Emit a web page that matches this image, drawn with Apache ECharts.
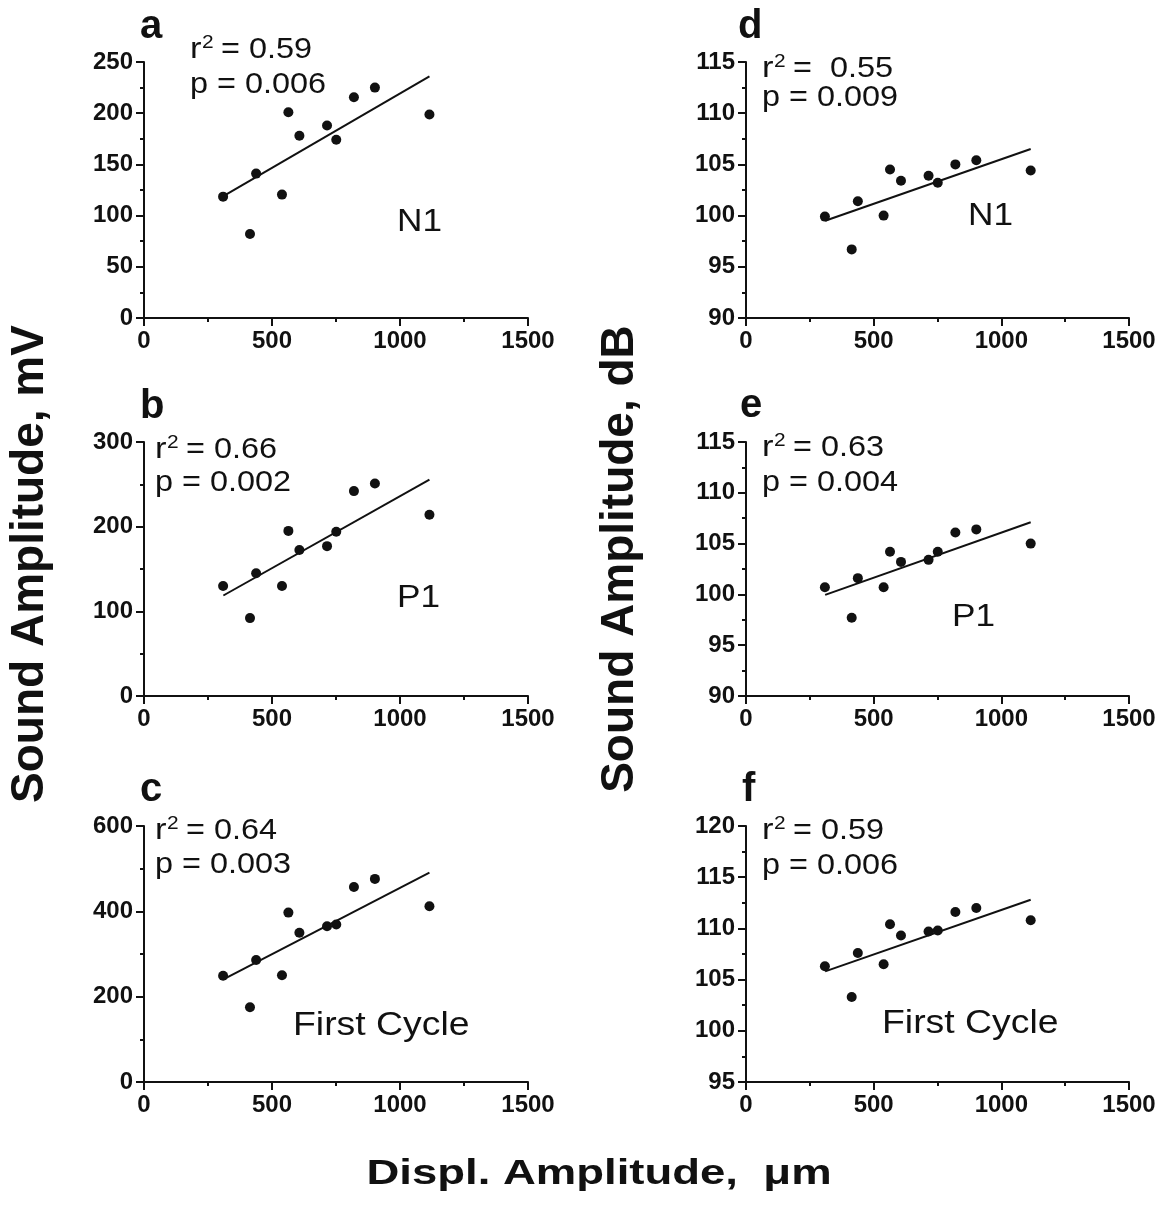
<!DOCTYPE html>
<html>
<head>
<meta charset="utf-8">
<script src="https://cdn.jsdelivr.net/npm/echarts@6/dist/echarts.min.js"></script>
<style>
html,body{margin:0;padding:0;background:#fff;}
#chart{width:1164px;height:1207px;}
</style>
</head>
<body>
<div id="chart"></div>
<script>
// Displacement amplitude (µm) of each measurement, shared by all panels
var displX = [309, 414, 438, 539, 564, 607, 715, 751, 820, 902, 1115];
// Sound amplitude, mV
var n1mV = [118.5, 82, 141, 120.5, 201, 178, 188, 174, 215.5, 225, 198.7];
var p1mV = [130, 92, 145, 130, 195, 172.5, 177, 194, 242, 251, 214];
var cycleMV = [249, 175, 286, 250, 397, 350, 365, 369, 457, 476, 412];
// Sound amplitude, dB
var n1dB = [99.9, 96.7, 101.4, 100.0, 104.5, 103.4, 103.9, 103.2, 105.0, 105.4, 104.4];
var p1dB = [100.7, 97.7, 101.6, 100.7, 104.2, 103.2, 103.4, 104.2, 106.1, 106.4, 105.0];
var cycleDB = [106.3, 103.3, 107.6, 106.5, 110.4, 109.3, 109.7, 109.8, 111.6, 112.0, 110.8];
// Regression line end points
var fitX = [310, 1115];
var fitN1mV = [119, 236];
var fitP1mV = [118.7, 255.6];
var fitCycleMV = [240.4, 490.6];
var fitN1dB = [99.5, 106.5];
var fitP1dB = [99.95, 107.1];
var fitCycleDB = [105.8, 112.8];
// Axis ranges / ticks
var xRange = [0, 1500, 500];
var yRanges = [[0, 250, 50], [0, 300, 100], [0, 600, 200], [90, 115, 5], [90, 115, 5], [95, 120, 5]];
// Panel annotations
var panelLetters = ['a', 'b', 'c', 'd', 'e', 'f'];
var panelNames = ['N1', 'P1', 'First Cycle', 'N1', 'P1', 'First Cycle'];
var rSquared = ['= 0.59', '= 0.66', '= 0.64', '=  0.55', '= 0.63', '= 0.59'];
var pValues = ['p = 0.006', 'p = 0.002', 'p = 0.003', 'p = 0.009', 'p = 0.004', 'p = 0.006'];

var panelVals = [n1mV, p1mV, cycleMV, n1dB, p1dB, cycleDB];
var panelFits = [fitN1mV, fitP1mV, fitCycleMV, fitN1dB, fitP1dB, fitCycleDB];

var FONT = 'Liberation Sans, Arial, sans-serif';
var INK = '#111111';

// layout
var grids = [
  {left: 144, top: 62, width: 384, height: 256},
  {left: 144, top: 442, width: 384, height: 254},
  {left: 144, top: 826, width: 384, height: 256},
  {left: 746, top: 62, width: 383, height: 256},
  {left: 746, top: 442, width: 383, height: 254},
  {left: 746, top: 826, width: 383, height: 256}
];
var letterPos = [[140, 27], [140, 407], [140, 790], [738, 27], [740, 406], [742, 790]];
var rPos = [[190, 50, 85], [155, 450, 483], [155, 831, 865], [762, 69, 98], [762, 448, 483], [762, 831, 866]];
var namePos = [[397, 222, 32], [397, 598, 32], [293, 1026, 34], [968, 216, 32], [952, 617, 32], [882, 1024, 34]];

function axisCommon() {
  return {
    axisLine: {show: true, onZero: false, lineStyle: {color: INK, width: 2}},
    axisTick: {show: true, length: 8, lineStyle: {color: INK, width: 2}},
    minorTick: {show: true, splitNumber: 2, length: 4, lineStyle: {color: INK, width: 2}},
    splitLine: {show: false},
    minorSplitLine: {show: false},
    axisLabel: {fontSize: 24, fontWeight: 'bold', color: INK, fontFamily: FONT, margin: 11,
      formatter: function (v) { return String(v); }}
  };
}

function txt(x, y, text, font, sx) {
  return {type: 'text', x: x, y: y, scaleX: sx || 1,
    style: {text: text, font: font, fill: INK, textAlign: 'left', textVerticalAlign: 'middle'}};
}

var xAxes = [], yAxes = [], series = [], graphics = [];
for (var i = 0; i < 6; i++) {
  var xa = axisCommon();
  xa.gridIndex = i; xa.type = 'value';
  xa.min = xRange[0]; xa.max = xRange[1]; xa.interval = xRange[2];
  xAxes.push(xa);
  var ya = axisCommon();
  ya.gridIndex = i; ya.type = 'value';
  ya.min = yRanges[i][0]; ya.max = yRanges[i][1]; ya.interval = yRanges[i][2];
  yAxes.push(ya);

  var vals = panelVals[i];
  series.push({
    type: 'scatter', xAxisIndex: i, yAxisIndex: i,
    symbol: 'circle', symbolSize: 10,
    itemStyle: {color: INK, opacity: 1},
    data: displX.map(function (x, j) { return [x, vals[j]]; }),
    z: 3
  });
  var fit = panelFits[i];
  series.push({
    type: 'line', xAxisIndex: i, yAxisIndex: i,
    showSymbol: false, symbol: 'none',
    lineStyle: {color: INK, width: 2},
    data: fitX.map(function (x, j) { return [x, fit[j]]; }),
    z: 2
  });

  var rx = rPos[i][0], ry = rPos[i][1];
  graphics.push(txt(letterPos[i][0], letterPos[i][1], panelLetters[i], 'bold 40px ' + FONT));
  graphics.push(txt(rx, ry, 'r', '30px ' + FONT, 1.15));
  graphics.push(txt(rx + 12, ry - 7, '2', '19px ' + FONT, 1.1));
  graphics.push(txt(rx + 31, ry, rSquared[i], '30px ' + FONT, 1.08));
  graphics.push(txt(rx, rPos[i][2], pValues[i], '30px ' + FONT, 1.08));
  graphics.push(txt(namePos[i][0], namePos[i][1], panelNames[i], namePos[i][2] + 'px ' + FONT, 1.1));
}

// axis titles
graphics.push({type: 'text', x: 30, y: 564, rotation: Math.PI / 2,
  style: {text: 'Sound Amplitude, mV', font: 'bold 46px ' + FONT, fill: INK, textAlign: 'center', textVerticalAlign: 'middle'}});
graphics.push({type: 'text', x: 620, y: 559, rotation: Math.PI / 2,
  style: {text: 'Sound Amplitude, dB', font: 'bold 46px ' + FONT, fill: INK, textAlign: 'center', textVerticalAlign: 'middle'}});
graphics.push({type: 'text', x: 599, y: 1174, scaleX: 1.3,
  style: {text: 'Displ. Amplitude,  μm', font: 'bold 35px ' + FONT, fill: INK, textAlign: 'center', textVerticalAlign: 'middle'}});

var chart = echarts.init(document.getElementById('chart'), null, {renderer: 'canvas'});
chart.setOption({
  animation: false,
  backgroundColor: '#fff',
  grid: grids,
  xAxis: xAxes,
  yAxis: yAxes,
  series: series,
  graphic: graphics
});
</script>
</body>
</html>
